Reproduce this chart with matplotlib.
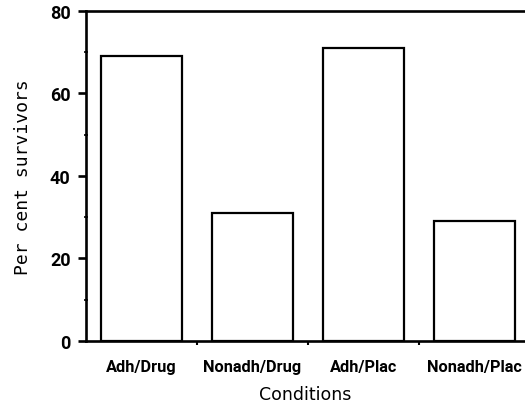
import matplotlib.pyplot as plt
import numpy as np
from matplotlib.ticker import MultipleLocator, FixedLocator

# Datos
conditions = ['Adh/Drug', 'Nonadh/Drug', 'Adh/Plac', 'Nonadh/Plac']
survivors = [69, 31, 71, 29]

tick_font = ['Roboto', 'DejaVu Sans']

fig = plt.figure(figsize=(5.25, 4.1), dpi=100)
ax = fig.add_axes([0.1638, 0.1659, 0.8362, 0.8049])

x = np.arange(len(conditions))
ax.bar(x, survivors, width=0.73, color='white', edgecolor='black', linewidth=1.6)

ax.set_xlim(-0.5, 3.455)
ax.set_ylim(0, 80)

# ejes
for side in ['left', 'bottom', 'top']:
    ax.spines[side].set_linewidth(1.9)
ax.spines['right'].set_visible(False)

ax.set_xticks(x)
ax.set_xticklabels(conditions, fontfamily=tick_font, fontweight='bold', fontsize=11.8)
ax.xaxis.set_minor_locator(FixedLocator([0.5, 1.5, 2.5]))
ax.tick_params(axis='x', which='major', length=0, pad=13)
ax.tick_params(axis='x', which='minor', direction='out', length=3, width=1.5)

ax.yaxis.set_major_locator(MultipleLocator(20))
ax.yaxis.set_minor_locator(MultipleLocator(10))
ax.tick_params(axis='y', which='major', direction='out', length=6, width=1.9, pad=5)
ax.tick_params(axis='y', which='minor', direction='inout', length=3, width=1.2)
for lbl in ax.get_yticklabels():
    lbl.set_fontfamily(tick_font)
    lbl.set_fontweight('bold')
    lbl.set_fontsize(13)

ax.set_xlabel('Conditions', fontfamily='DejaVu Sans', fontsize=12.5, labelpad=8)
ax.set_ylabel('Per cent survivors', fontfamily='DejaVu Sans Mono', fontsize=13, labelpad=13)

fig.savefig('out.png', dpi=100)
